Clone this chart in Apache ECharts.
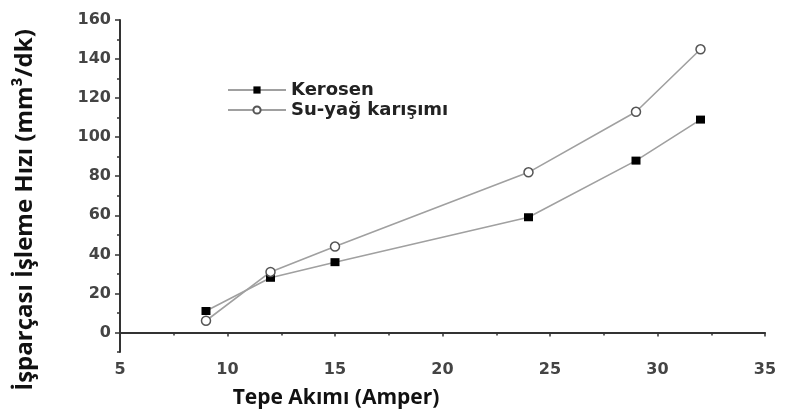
<!DOCTYPE html>
<html>
<head>
<meta charset="utf-8">
<script src="https://cdn.jsdelivr.net/npm/echarts@6/dist/echarts.min.js"></script>
<style>html,body{margin:0;padding:0;background:#fff}#c{width:786px;height:414px}</style>
</head>
<body>
<div id="c"></div>
<script>
var xValues = [9, 12, 15, 24, 29, 32];
var keroseneValues = [11, 28, 36, 59, 88, 109];
var suYagValues = [6, 31, 44, 82, 113, 145];
var seriesNames = ['Kerosen', 'Su-yağ karışımı'];
var yMajorTicks = [0, 20, 40, 60, 80, 100, 120, 140, 160];
var yMinorTicks = [-10, 10, 30, 50, 70, 90, 110, 130, 150];
var xTitle = 'Tepe Akımı (Amper)';
var yTitle = 'İşparçası İşleme Hızı (mm³/dk)';

function pairs(xs, ys) { return xs.map(function (x, i) { return [x, ys[i]]; }); }

var chart = echarts.init(document.getElementById('c'));
var labelStyle = { color: '#444', fontWeight: 'bold', fontSize: 16, fontFamily: 'DejaVu Sans, sans-serif' };
chart.setOption({
  animation: false,
  grid: { left: 120, right: 21, top: 20, bottom: 62 },
  legend: {
    orient: 'vertical', left: 222, top: 76, itemWidth: 58, itemHeight: 9, itemGap: 2,
    textStyle: { color: '#222', fontWeight: 'bold', fontSize: 18, fontFamily: 'DejaVu Sans, sans-serif' },
    data: seriesNames
  },
  xAxis: {
    type: 'value', min: 5, max: 35, interval: 5,
    axisLine: { lineStyle: { color: '#333', width: 2 } },
    axisTick: { length: 4, lineStyle: { color: '#333', width: 1.5 } },
    minorTick: { show: true, splitNumber: 2, length: 3, lineStyle: { color: '#333', width: 1.5 } },
    axisLabel: Object.assign({ margin: 10 }, labelStyle),
    splitLine: { show: false }
  },
  yAxis: [{
    type: 'value', min: -10, max: 160,
    axisLine: { show: true, lineStyle: { color: '#333', width: 2 } },
    axisTick: { show: true, length: 5, customValues: yMajorTicks, lineStyle: { color: '#333', width: 1.5 } },
    axisLabel: Object.assign({ margin: 9, customValues: yMajorTicks }, labelStyle),
    splitLine: { show: false }
  }, {
    type: 'value', min: -10, max: 160, position: 'left',
    axisLine: { show: false },
    axisTick: { show: true, length: 3, customValues: yMinorTicks, lineStyle: { color: '#333', width: 1.5 } },
    axisLabel: { show: false },
    splitLine: { show: false }
  }],
  graphic: [
    { type: 'text', x: 25, y: 210, rotation: Math.PI / 2,
      style: { text: yTitle, textAlign: 'center', textVerticalAlign: 'middle', fill: '#111', fontWeight: 'bold', fontSize: 24, fontFamily: 'Open Sans, sans-serif' } },
    { type: 'text', x: 336, y: 398,
      style: { text: xTitle, textAlign: 'center', textVerticalAlign: 'middle', fill: '#111', fontWeight: 'bold', fontSize: 21, fontFamily: 'Open Sans, sans-serif' } }
  ],
  series: [{
    name: seriesNames[0], type: 'line', data: pairs(xValues, keroseneValues),
    symbol: 'rect', symbolSize: [9, 8],
    lineStyle: { color: '#a0a0a0', width: 1.6 },
    itemStyle: { color: '#000', borderColor: '#000', borderWidth: 0 }
  }, {
    name: seriesNames[1], type: 'line', data: pairs(xValues, suYagValues),
    symbol: 'circle', symbolSize: 9,
    lineStyle: { color: '#a0a0a0', width: 1.6 },
    itemStyle: { color: '#fff', borderColor: '#555', borderWidth: 1.5 }
  }]
});
</script>
</body>
</html>
